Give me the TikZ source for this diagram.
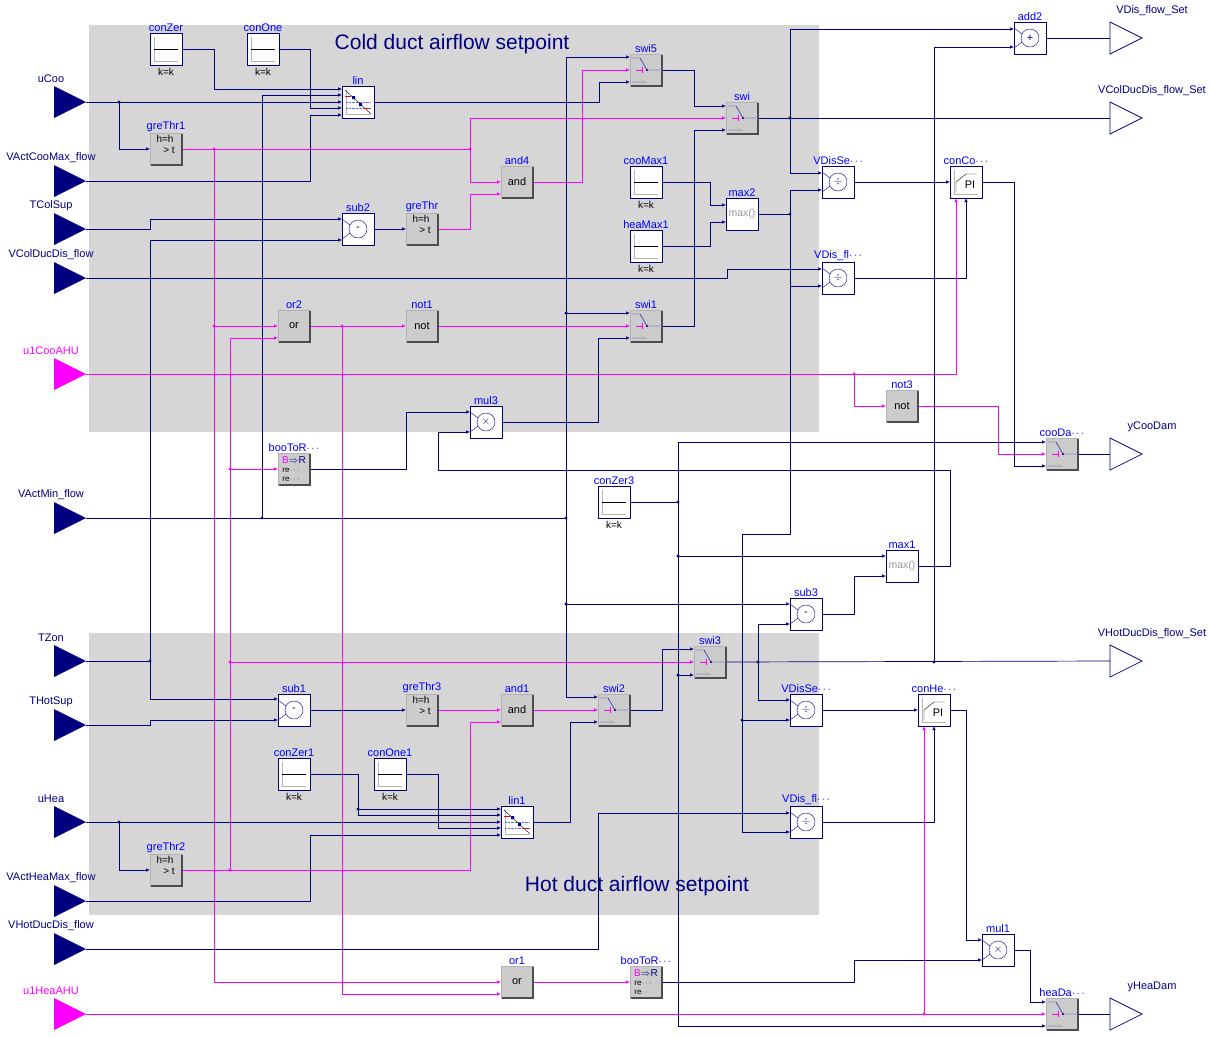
\documentclass[tikz,border=0pt]{standalone}
\usepackage{fontspec}
\setmainfont{Liberation Sans}
\usetikzlibrary{arrows.meta,calc}
\definecolor{navy}{RGB}{0,0,128}
\definecolor{mag}{RGB}{255,0,255}
\definecolor{lblue}{RGB}{0,0,255}
\definecolor{area}{RGB}{214,214,214}
\definecolor{gfill}{RGB}{204,204,204}
\newcommand\inp[4]{\fill[#3] (54,#2-16) -- (86,#2) -- (54,#2+16) -- cycle;
 \coordinate (#1) at (86,#2);
 \node[font=\fontsize{11}{11}\selectfont,text=#3] at (51,#2-23) {#4};}
\newcommand\outp[3]{\draw[navy,fill=white,line width=0.7pt] (1110,#2-16) -- (1142,#2) -- (1110,#2+16) -- cycle;
 \coordinate (#1) at (1110,#2);
 \node[font=\fontsize{11}{11}\selectfont,text=navy] at (1152,#2-27) {#3};}
\newcommand\cst[4]{\node[wb,label={[lb]above:#4}] (#1) at (#2,#3) {};
 \begin{scope}[shift={(#2,#3)}]\draw[gray!60] (-12,12)--(12,12) (-12,12)--(-12,-12);\draw[black] (-12,0)--(12,0);\end{scope}
 \node[font=\fontsize{10}{10}\selectfont] at (#2,#3+23) {k=k};}
\newcommand\linb[4]{\node[wb,label={[lb]above:#4}] (#1) at (#2,#3) {};
 \begin{scope}[shift={(#2,#3)}]\draw[gray!60] (-12,12)--(12,12) (-12,12)--(-12,-12);
 \draw[lblue!60,densely dotted] (-12,0)--(12,0) (-12,6)--(12,6);
 \draw[black] (-13,-12)--(13,12);\fill[navy] (-6,-6) rectangle ++(3,3) (1,1) rectangle ++(3,3);
 \draw[red] (-13,-6)--(-7,-6) (6,6)--(12,6);\end{scope}}
\newcommand\opb[5]{\node[wb,label={[lb]above:#4}] (#1) at (#2,#3) {};
 \draw[navy] (#2,#3) circle (9);\draw[navy] (#2-16,#3-10)--(#2-8,#3-4) (#2-16,#3+10)--(#2-8,#3+4);
 \node[font=\fontsize{11}{11}\selectfont,text=navy] at (#2,#3) {#5};}
\newcommand\txb[5]{\node[gb,label={[lb]above:#4}] (#1) at (#2,#3) {};
 \draw[black!70,line width=1.2pt] (#2-15,#3+16)--(#2+16,#3+16)--(#2+16,#3-15);
 \node[font=\fontsize{11}{11}\selectfont] at (#2,#3) {#5};}
\newcommand\gtb[4]{\node[gb,label={[lb]above:#4}] (#1) at (#2,#3) {};
 \draw[black!70,line width=1.2pt] (#2-15,#3+16)--(#2+16,#3+16)--(#2+16,#3-15);
 \node[font=\fontsize{10}{10}\selectfont] at (#2-1,#3-10) {h=h};\node[font=\fontsize{10}{10}\selectfont] at (#2+3,#3+1) {> t};}
\newcommand\swb[4]{\node[gb,label={[lb]above:#4}] (#1) at (#2,#3) {};
 \draw[black!70,line width=1.2pt] (#2-15,#3+16)--(#2+16,#3+16)--(#2+16,#3-15);
 \begin{scope}[shift={(#2,#3)}]\draw[navy] (-14,-12)--(-6,-12)--(1,0)--(14,0) (-14,12)--(0,12);\fill[navy] (1,0) circle (1.2);
 \draw[mag] (-10,0)--(-4,0) (-4,-3)--(-4,3);\end{scope}}
\newcommand\mxb[4]{\node[wb,label={[lb]above:#4}] (#1) at (#2,#3) {};
 \node[font=\fontsize{10.5}{10.5}\selectfont,text=gray!80] at (#2,#3) {max()};}
\newcommand\pib[4]{\node[wb,label={[lb]above:#4}] (#1) at (#2,#3) {};
 \begin{scope}[shift={(#2,#3)}]\draw[gray!60] (-12,12)--(12,12) (-12,12)--(-12,-12);\draw[black] (-10,10)--(-10,0)--(0,-8)--(11,-8);\end{scope}
 \node[font=\fontsize{11}{11}\selectfont] at (#2+4,#3+3) {PI};}
\newcommand\btr[4]{\node[gb,label={[lb]above:#4}] (#1) at (#2,#3) {};
 \draw[black!70,line width=1.2pt] (#2-15,#3+16)--(#2+16,#3+16)--(#2+16,#3-15);
 \node[font=\fontsize{10}{10}\selectfont,inner sep=0] at (#2,#3-9) {\textcolor{mag}{B}\textcolor{navy}{$\Rightarrow$R}};
 \node[font=\fontsize{8}{8}\selectfont,inner sep=0] at (#2-3,#3+1) {re$\cdots$};\node[font=\fontsize{8}{8}\selectfont,inner sep=0] at (#2-3,#3+10) {re$\cdots$};}
\newcommand\dt[2]{\fill[navy] (#1,#2) circle (1.7);}
\newcommand\dtm[2]{\fill[mag] (#1,#2) circle (1.7);}
\begin{document}
\begin{tikzpicture}[x=1pt,y=-1pt,
 wb/.style={draw=navy,fill=white,minimum size=32pt,inner sep=0,line width=0.8pt},
 gb/.style={draw=gray!60,fill=gfill,minimum size=32pt,inner sep=0,line width=0.8pt},
 lb/.style={text=lblue,font=\fontsize{11}{11}\selectfont,inner sep=1pt},
 w/.style={draw=navy,line width=0.7pt,-{Latex[length=4pt,width=3.5pt]}},
 wn/.style={draw=navy,line width=0.7pt},
 m/.style={draw=mag,line width=0.7pt,-{Latex[length=4pt,width=3.5pt]}},
 mn/.style={draw=mag,line width=0.7pt}]
\useasboundingbox (0,0) rectangle (1212,1037);
\fill[area] (89,25) rectangle (819,432);
\fill[area] (89,633) rectangle (819,915);
\node[text=navy,font=\fontsize{21}{21}\selectfont] at (452,44) {Cold duct airflow setpoint};
\node[text=navy,font=\fontsize{21}{21}\selectfont] at (637,886) {Hot duct airflow setpoint};

\inp{uCoo}{102}{navy}{uCoo}
\inp{VActCooMax}{181}{navy}{VActCooMax\_flow}
\inp{TColSup}{229}{navy}{TColSup}
\inp{VColDucDis}{278}{navy}{VColDucDis\_flow}
\inp{u1Coo}{374}{mag}{u1CooAHU}
\inp{VActMin}{518}{navy}{VActMin\_flow}
\inp{TZon}{661}{navy}{TZon}
\inp{THotSup}{725}{navy}{THotSup}
\inp{uHea}{822}{navy}{uHea}
\inp{VActHeaMax}{901}{navy}{VActHeaMax\_flow}
\inp{VHotDucDis}{949}{navy}{VHotDucDis\_flow}
\inp{u1Hea}{1014}{mag}{u1HeaAHU}
\outp{VDisOut}{38}{VDis\_flow\_Set}
\outp{VColOut}{118}{VColDucDis\_flow\_Set}
\outp{yCoo}{454}{yCooDam}
\outp{VHotOut}{661}{VHotDucDis\_flow\_Set}
\outp{yHea}{1014}{yHeaDam}

\draw[w] (uCoo) -- (342,102);
\draw[w] (119,102) |- (150,149); \dt{119}{102}
\draw[w] (182,49) -- (214,49) |- (342,89);
\draw[wn] (VActMin) -- (566,518); \draw[w] (262,518) |- (342,95); \dt{262}{518}
\draw[w] (279,49) -- (310,49) |- (342,108);
\draw[w] (VActCooMax) -- (310,181) |- (342,115);
\draw[w] (374,102) -- (599,102) |- (630,82);
\draw[w] (566,518) |- (630,57); \dt{566}{518}
\draw[w] (566,313) -- (630,313); \dt{566}{313}
\draw[w] (566,518) |- (790,604);
\draw[w] (566,604) |- (598,697); \dt{566}{604}
\draw[m] (182,149) -- (470,149) |- (501,182);
\draw[m] (470,149) |- (726,118); \dtm{470}{149}
\draw[mn] (214,149) -- (214,982); \draw[m] (214,982) -- (501,982); \dtm{214}{149}
\draw[m] (214,326) -- (278,326); \dtm{214}{326}
\draw[m] (310,326) -- (406,326);
\draw[m] (342,326) |- (501,994); \dtm{342}{326}
\draw[m] (438,326) -- (630,326);
\draw[m] (182,870) -- (470,870) |- (501,722);
\draw[m] (230,870) |- (278,338); \dtm{230}{870}
\draw[m] (230,469) -- (278,469); \dtm{230}{469}
\draw[m] (230,662) -- (694,662); \dtm{230}{662}
\draw[m] (438,229) -- (470,229) |- (501,194);
\draw[m] (533,182) -- (582,182) |- (630,70);
\draw[w] (662,70) -- (694,70) |- (726,106);
\draw[w] (662,326) -- (694,326) |- (726,130);
\draw[wn] (758,118) -- (VColOut);
\draw[w] (790,118) |- (1014,29); \draw[w] (790,118) |- (822,173); \dt{790}{118}
\draw[w] (662,182) -- (710,182) |- (726,205);
\draw[w] (662,246) -- (710,246) |- (726,222);
\draw[wn] (758,214) -- (790,214); \dt{790}{214}
\draw[w] (790,214) |- (822,190);
\draw[w] (790,214) |- (822,286);
\draw[wn] (790,214) -- (790,534) -- (742,534) -- (742,832);
\draw[w] (742,720) -- (790,720); \dt{742}{720}
\draw[w] (742,832) -- (790,832);
\draw[w] (TColSup) -- (150,229) |- (342,219);
\draw[wn] (TZon) -- (150,661); \dt{150}{661}
\draw[w] (150,661) |- (342,240);
\draw[w] (150,661) |- (278,699);
\draw[w] (374,229) -- (406,229);
\draw[w] (VColDucDis) -- (727,278) |- (822,269);
\draw[w] (854,182) -- (950,182);
\draw[w] (854,278) -| (966,198);
\draw[m] (u1Coo) -| (956,198);
\draw[m] (854,374) |- (886,406); \dtm{854}{374}
\draw[m] (918,406) -- (998,406) |- (1046,454);
\draw[w] (982,182) -- (1014,182) |- (1046,466);
\draw[wn] (630,502) -- (678,502); \dt{678}{502}
\draw[w] (678,502) |- (1046,442);
\draw[w] (678,502) |- (1046,1026);
\draw[w] (678,556) -- (886,556); \dt{678}{556}
\draw[w] (678,675) -- (694,675); \dt{678}{675}
\draw[wn] (1078,454) -- (yCoo);
\draw[w] (310,469) -- (406,469) |- (470,412);
\draw[w] (918,566) -- (950,566) -- (950,470) -- (438,470) -- (438,432) -- (470,432);
\draw[w] (502,422) -- (598,422) |- (630,338);
\draw[w] (822,614) -- (854,614) |- (886,576);
\draw[wn] (726,662) -- (VHotOut);
\draw[w] (758,662) |- (790,624); \draw[w] (758,662) |- (790,700); \dt{758}{662}
\draw[w] (934,662) |- (1014,47); \dt{934}{662}
\draw[w] (630,710) -- (662,710) |- (694,649);
\draw[w] (822,710) -- (918,710);
\draw[w] (822,822) -| (934,726);
\draw[m] (u1Hea) -- (1046,1014);
\draw[m] (924,1014) -- (924,726); \dtm{924}{1014}
\draw[w] (950,710) -- (966,710) |- (982,940);
\draw[w] (1014,950) -- (1030,950) |- (1046,1002);
\draw[wn] (1078,1014) -- (yHea);
\draw[m] (533,982) -- (630,982);
\draw[w] (662,982) -- (854,982) |- (982,960);
\draw[wn] (1046,38) -- (VDisOut);
\draw[w] (THotSup) -- (150,725) |- (278,720);
\draw[w] (310,710) -- (406,710);
\draw[m] (438,710) -- (501,710);
\draw[m] (533,710) -- (598,710);
\draw[w] (uHea) -- (501,822);
\draw[w] (119,822) |- (150,870); \dt{119}{822}
\draw[w] (310,774) -- (358,774) |- (501,809);
\draw[w] (358,809) |- (501,815); \dt{358}{809}
\draw[w] (406,774) -- (438,774) |- (501,828);
\draw[w] (VActHeaMax) -- (310,901) |- (501,835);
\draw[w] (533,822) -- (570,822) |- (598,722);
\draw[w] (VHotDucDis) -- (598,949) |- (790,813);

\cst{conZer}{166}{49}{conZer}
\cst{conOne}{263}{49}{conOne}
\linb{lin}{358}{102}{lin}
\gtb{greThrA}{166}{149}{greThr1}
\txb{andF}{517}{182}{and4}{and}
\opb{subB}{358}{229}{sub2}{-}
\gtb{greThr}{422}{229}{greThr}
\cst{cooMax}{646}{182}{cooMax1}
\cst{heaMax}{646}{246}{heaMax1}
\mxb{maxB}{742}{214}{max2}
\swb{swiF}{646}{70}{swi5}
\swb{swi}{742}{118}{swi}
\opb{VDisSe}{838}{182}{VDisSe$\cdots$}{$\div$}
\opb{VDisFl}{838}{278}{VDis\_fl$\cdots$}{$\div$}
\pib{conCo}{966}{182}{conCo$\cdots$}
\opb{addB}{1030}{38}{add2}{+}
\txb{orB}{294}{326}{or2}{or}
\txb{notA}{422}{326}{not1}{not}
\swb{swiA}{646}{326}{swi1}
\txb{notC}{902}{406}{not3}{not}
\opb{mulC}{486}{422}{mul3}{$\times$}
\btr{booToR}{294}{469}{booToR$\cdots$}
\swb{cooDa}{1062}{454}{cooDa$\cdots$}
\cst{conZerC}{614}{502}{conZer3}
\mxb{maxA}{902}{566}{max1}
\opb{subC}{806}{614}{sub3}{-}
\swb{swiC}{710}{662}{swi3}
\opb{subA}{294}{710}{sub1}{-}
\gtb{greThrC}{422}{710}{greThr3}
\txb{andA}{517}{710}{and1}{and}
\swb{swiB}{614}{710}{swi2}
\opb{VDisSeA}{806}{710}{VDisSe$\cdots$}{$\div$}
\pib{conHe}{934}{710}{conHe$\cdots$}
\cst{conZerA}{294}{774}{conZer1}
\cst{conOneA}{390}{774}{conOne1}
\linb{linA}{517}{822}{lin1}
\opb{VDisFlA}{806}{822}{VDis\_fl$\cdots$}{$\div$}
\gtb{greThrB}{166}{870}{greThr2}
\opb{mulA}{998}{950}{mul1}{$\times$}
\txb{orA}{517}{982}{or1}{or}
\btr{booToRA}{646}{982}{booToR$\cdots$}
\swb{heaDa}{1062}{1014}{heaDa$\cdots$}
\end{tikzpicture}
\end{document}
